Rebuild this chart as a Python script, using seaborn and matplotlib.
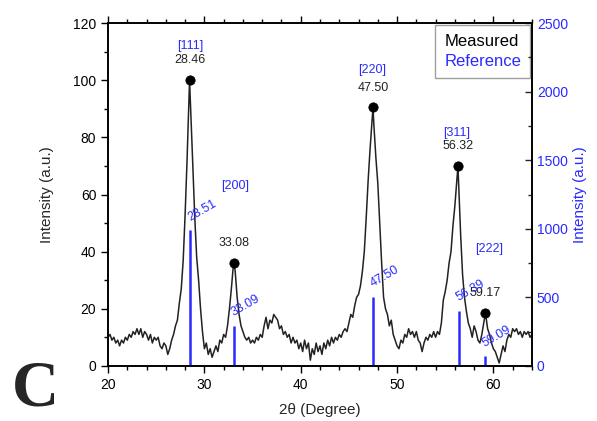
import numpy as np
import pandas as pd
import seaborn as sns
import matplotlib.pyplot as plt
from matplotlib.ticker import MultipleLocator

# measured scan, 20-64 deg in 0.2 deg steps
two_theta_start, two_theta_step = 20.0, 0.2
measured = [
    10, 11, 9, 10, 8, 9, 7, 9, 8, 10,
    9, 11, 10, 12, 11, 13, 11, 13, 10, 12,
    11, 9, 11, 8, 10, 9, 10, 7, 6, 8,
    7, 4, 6, 9, 11, 14, 16, 22, 27, 37,
    53, 72, 93, 88, 70, 52, 38, 30, 20, 12,
    6, 8, 4, 6, 3, 5, 7, 5, 9, 8,
    11, 10, 14, 20, 27, 35, 33, 24, 18, 14,
    12, 10, 9, 10, 8, 9, 8, 10, 9, 11,
    10, 14, 17, 13, 16, 15, 18, 17, 16, 13,
    14, 11, 12, 10, 11, 8, 10, 8, 9, 6,
    8, 5, 9, 6, 8, 2, 6, 4, 8, 5,
    7, 4, 8, 6, 9, 7, 10, 8, 10, 9,
    11, 10, 12, 13, 12, 15, 18, 17, 21, 24,
    25, 28, 33, 40, 52, 65, 76, 86, 84, 73,
    64, 50, 36, 24, 20, 18, 14, 16, 11, 9,
    7, 6, 9, 8, 11, 10, 13, 11, 12, 10,
    12, 9, 8, 5, 8, 10, 9, 11, 10, 12,
    10, 12, 11, 15, 23, 26, 30, 36, 40, 49,
    56, 65, 63, 46, 32, 24, 19, 15, 13, 10,
    14, 12, 9, 8, 11, 15, 18, 13, 11, 8,
    6, 5, 3, 1, 4, 7, 5, 9, 11, 10,
    13, 12, 13, 11, 12, 10, 12, 11, 12, 10,
    11,
]

# fitted peak maxima of the measured pattern
peak_pos = [28.46, 33.08, 47.50, 56.32, 59.17]
peak_int = [100, 36, 90.5, 70, 18.5]

# reference pattern (right axis)
ref_pos = [28.51, 33.09, 47.50, 56.39, 59.09]
ref_int = [990, 292, 503, 400, 70]
ref_hkl = ["[111]", "[200]", "[220]", "[311]", "[222]"]
hkl_pos = [(28.5, 112), (33.2, 63), (47.45, 103.5), (56.2, 81.5), (59.6, 41)]

x = two_theta_start + two_theta_step * np.arange(len(measured))
df = pd.DataFrame({"two_theta": np.concatenate([x, peak_pos]),
                   "intensity": np.concatenate([measured, peak_int])})
df = df.sort_values("two_theta")
peaks = pd.DataFrame({"two_theta": peak_pos, "intensity": peak_int})

sns.set_style("ticks")
plt.rcParams["font.family"] = ["Liberation Sans", "DejaVu Sans"]
blue = "#2a2aff"

fig = plt.figure(figsize=(5.97, 4.21), dpi=100)
ax = fig.add_axes([0.181, 0.131, 0.710, 0.814])
ax2 = ax.twinx()

sns.lineplot(data=df, x="two_theta", y="intensity", ax=ax, color="#222222", lw=1.1)
sns.scatterplot(data=peaks, x="two_theta", y="intensity", ax=ax, color="black",
                s=45, edgecolor="black", zorder=5)
for p, v in zip(peak_pos, peak_int):
    ax.annotate(f"{p:.2f}", (p, v), xytext=(0, 10), textcoords="offset points",
                ha="center", va="bottom", fontsize=9, color="#222222")
for lab, (hx, hy) in zip(ref_hkl, hkl_pos):
    ax.text(hx, hy, lab, ha="center", va="center", fontsize=9, color=blue)

ax2.vlines(ref_pos, 0, ref_int, color=blue, lw=1.8)
for p, v in zip(ref_pos, ref_int):
    ax2.annotate(f"{p:.2f}", (p, v), xytext=(1, 5), textcoords="offset points",
                 ha="left", va="bottom", rotation=30, rotation_mode="anchor",
                 fontsize=9, color=blue)

ax.set_xlim(20, 64)
ax.set_ylim(0, 120)
ax2.set_ylim(0, 2500)
ax.xaxis.set_major_locator(MultipleLocator(10))
ax.xaxis.set_minor_locator(MultipleLocator(2))
ax.yaxis.set_major_locator(MultipleLocator(20))
ax.yaxis.set_minor_locator(MultipleLocator(10))
ax2.yaxis.set_major_locator(MultipleLocator(500))
ax2.yaxis.set_minor_locator(MultipleLocator(250))

ax.tick_params(axis="both", which="both", direction="out", labelsize=10,
               colors="black", width=1)
ax.tick_params(axis="x", which="both", top=True)
ax.tick_params(which="major", length=5)
ax.tick_params(which="minor", length=3)
ax2.tick_params(axis="y", which="both", direction="in", labelsize=10,
                labelcolor=blue, width=1)
ax2.tick_params(which="major", length=5)
ax2.tick_params(which="minor", length=3)
for a in (ax, ax2):
    for s in a.spines.values():
        s.set_visible(True)
        s.set_linewidth(1.2)
        s.set_color("black")

ax.set_xlabel("2θ (Degree)", fontsize=11, labelpad=8)
ax.set_ylabel("Intensity (a.u.)", fontsize=11, labelpad=14)
ax2.set_ylabel("Intensity (a.u.)", fontsize=11, color=blue, labelpad=4)

leg_handles = [plt.Line2D([], [], lw=0), plt.Line2D([], [], lw=0)]
leg = ax.legend(leg_handles, ["Measured", "Reference"], loc="upper right",
                handlelength=0, handletextpad=0, fontsize=12, fancybox=False,
                edgecolor="#888888", borderpad=0.55, labelspacing=0.25,
                borderaxespad=0, bbox_to_anchor=(0.996, 0.994))
leg.get_texts()[0].set_color("black")
leg.get_texts()[1].set_color(blue)

fig.text(0.02, 0.003, "C", fontsize=47, fontweight="bold",
         family="Liberation Serif", ha="left", va="bottom")

fig.savefig("out.png", dpi=100)
